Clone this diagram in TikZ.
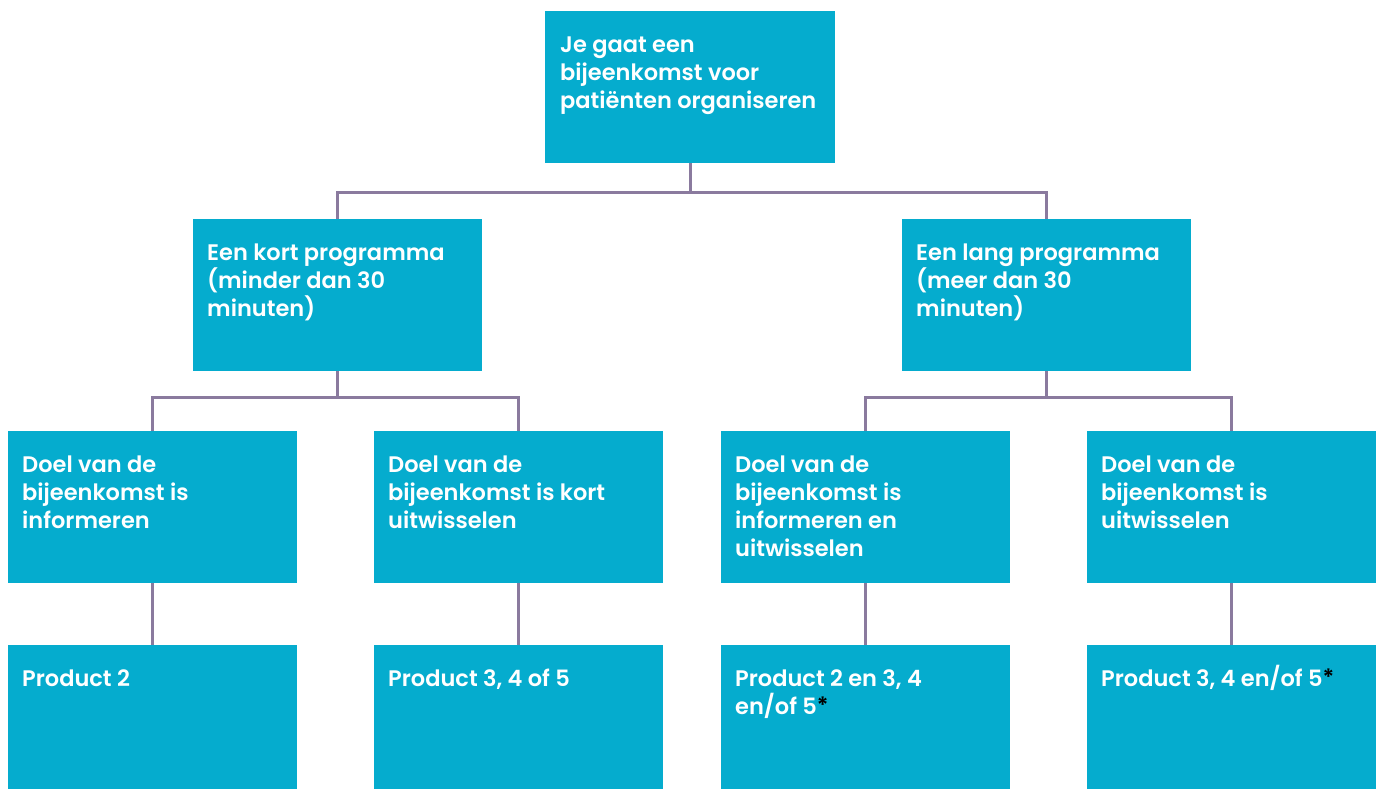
\documentclass[tikz,border=0pt]{standalone}
\usepackage{fontspec}
\usetikzlibrary{calc}
\setmainfont{Poppins}[UprightFont=* SemiBold]
\definecolor{boxblue}{HTML}{05ACCE}
\definecolor{linepurple}{HTML}{8A7A9E}
\newcommand{\blackast}{\smash{\color{black}\raisebox{1pt}{*}}}
\newcommand{\firststrut}{\rule{0pt}{22pt}}
\begin{document}
\begin{tikzpicture}[x=1pt,y=-1pt,
  box/.style={fill=boxblue, draw=none, inner sep=0pt, minimum width=289pt, minimum height=152pt, anchor=north west},
  lowbox/.style={box, minimum height=146pt},
  label/.style={anchor=north west, inner sep=0pt, align=left, text=white, font=\fontsize{22.5}{28}\selectfont},
  conn/.style={draw=linepurple, line width=2.6pt}
]
\useasboundingbox (0,0) rectangle (1378,789);
% boxes
\node[box, minimum width=290pt] (t) at (545,11) {};
\node[box] (l) at (193,219) {};
\node[box] (r) at (902,219) {};
\node[box] (a) at (8,431) {};
\node[box] (b) at (374,431) {};
\node[box] (c) at (721,431) {};
\node[box] (d) at (1087,431) {};
\node[lowbox] (pa) at (8,645) {};
\node[lowbox] (pb) at (374,645) {};
\node[lowbox] (pc) at (721,645) {};
\node[lowbox] (pd) at (1087,645) {};
% texts
\node[label] (tt) at ($(t.north west)+(15,19)$) {\firststrut Je gaat een\\bijeenkomst voor\\patiënten organiseren};
\node[label] (lt) at ($(l.north west)+(14,19)$) {\firststrut Een kort programma\\(minder dan 30\\minuten)};
\node[label] (rt) at ($(r.north west)+(14,19)$) {\firststrut Een lang programma\\(meer dan 30\\minuten)};
\node[label] (at) at ($(a.north west)+(14,19)$) {\firststrut Doel van de\\bijeenkomst is\\informeren};
\node[label] (bt) at ($(b.north west)+(14,19)$) {\firststrut Doel van de\\bijeenkomst is kort\\uitwisselen};
\node[label] (ct) at ($(c.north west)+(14,19)$) {\firststrut Doel van de\\bijeenkomst is\\informeren en\\uitwisselen};
\node[label] (dt) at ($(d.north west)+(14,19)$) {\firststrut Doel van de\\bijeenkomst is\\uitwisselen};
\node[label] (pat) at ($(pa.north west)+(14,19)$) {\firststrut Product 2};
\node[label] (pbt) at ($(pb.north west)+(14,19)$) {\firststrut Product 3, 4 of 5};
\node[label] (pct) at ($(pc.north west)+(14,19)$) {\firststrut Product 2 en 3, 4\\en/of 5\blackast};
\node[label] (pdt) at ($(pd.north west)+(14,19)$) {\firststrut Product 3, 4 en/of 5\blackast};
% connectors
\coordinate (j0) at ($(t.south)+(0,29)$);
\draw[conn] (t.south) -- (j0) -| (l.north);
\draw[conn] (j0) -| (r.north);
\coordinate (j1) at ($(l.south)+(0,26)$);
\draw[conn] (l.south) -- (j1) -| (a.north);
\draw[conn] (j1) -| (b.north);
\coordinate (j2) at ($(r.south)+(0,26)$);
\draw[conn] (r.south) -- (j2) -| (c.north);
\draw[conn] (j2) -| (d.north);
\draw[conn] (a.south) -- (pa.north);
\draw[conn] (b.south) -- (pb.north);
\draw[conn] (c.south) -- (pc.north);
\draw[conn] (d.south) -- (pd.north);
\end{tikzpicture}
\end{document}
